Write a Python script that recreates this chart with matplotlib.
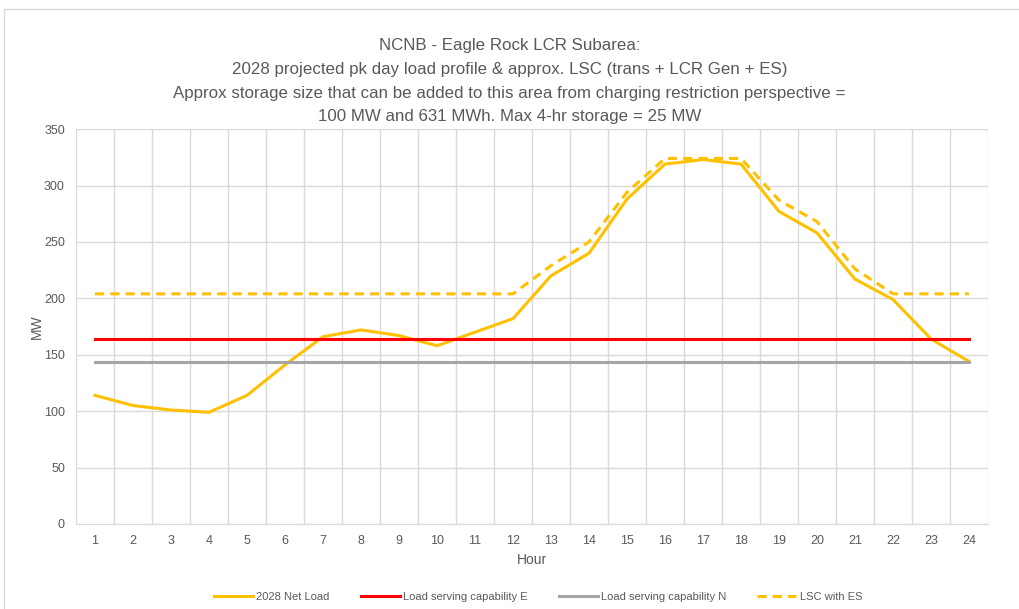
import matplotlib.pyplot as plt
from matplotlib.patches import Rectangle

plt.rcParams['font.family'] = ['Liberation Sans Narrow', 'Liberation Sans', 'DejaVu Sans']

hours = list(range(1, 25))
net_load = [114, 105, 101, 99, 114, 141, 166, 172, 167, 158, 170, 182,
            220, 240, 288, 319, 323, 319, 277, 258, 217, 199, 164, 144]
lsc_es = [204, 204, 204, 204, 204, 204, 204, 204, 204, 204, 204, 204,
          229, 250, 294, 324, 324, 324, 287, 268, 226, 204, 204, 204]
cap_e = [164] * 24
cap_n = [144] * 24

title = ("NCNB - Eagle Rock LCR Subarea:\n"
         "2028 projected pk day load profile & approx. LSC (trans + LCR Gen + ES)\n"
         "Approx storage size that can be added to this area from charging restriction perspective =\n"
         "100 MW and 631 MWh. Max 4-hr storage = 25 MW")

txt = '#595959'
grid = '#d9d9d9'

fig = plt.figure(figsize=(10.19, 6.09), dpi=100)
fig.patches.append(Rectangle((0.004, -0.01), 1.2, 0.995, transform=fig.transFigure,
                             fill=False, edgecolor='#d9d9d9', linewidth=1))
ax = fig.add_axes([0.0746, 0.1396, 0.8950, 0.6484])

ax.plot(hours, net_load, color='#ffc000', lw=2.2, label='2028 Net Load')
ax.plot(hours, cap_e, color='#ff0000', lw=2.2, label='Load serving capability E')
ax.plot(hours, cap_n, color='#a5a5a5', lw=2.2, label='Load serving capability N')
ax.plot(hours, lsc_es, color='#ffc000', lw=2.2, ls=(0, (3, 2)), label='LSC with ES')

ax.set_xlim(0.5, 24.5)
ax.set_ylim(0, 350)
ax.set_yticks(range(0, 351, 50))
ax.set_xticks(hours)
ax.set_xticks([h + 0.5 for h in range(0, 25)], minor=True)
ax.grid(True, axis='y', color=grid, lw=1)
ax.grid(True, axis='x', which='minor', color=grid, lw=1)
ax.set_axisbelow(True)
ax.tick_params(which='both', length=0, labelsize=9, colors=txt, pad=8)
for s in ['top', 'right', 'left']:
    ax.spines[s].set_visible(False)
ax.spines['bottom'].set_color(grid)

ax.set_xlabel('Hour', fontsize=10, color=txt, labelpad=4)
ax.set_ylabel('MW', fontsize=10, color=txt, labelpad=0)

fig.text(0.5, 0.937, title, ha='center', va='top', fontsize=12.2, color=txt, linespacing=1.72)

fig.legend(loc='center', bbox_to_anchor=(0.528, 0.02), ncol=4, frameon=False,
           fontsize=8, labelcolor=txt, handlelength=3.5, columnspacing=2.8, handletextpad=0.3)

fig.savefig('out.png', dpi=100)
